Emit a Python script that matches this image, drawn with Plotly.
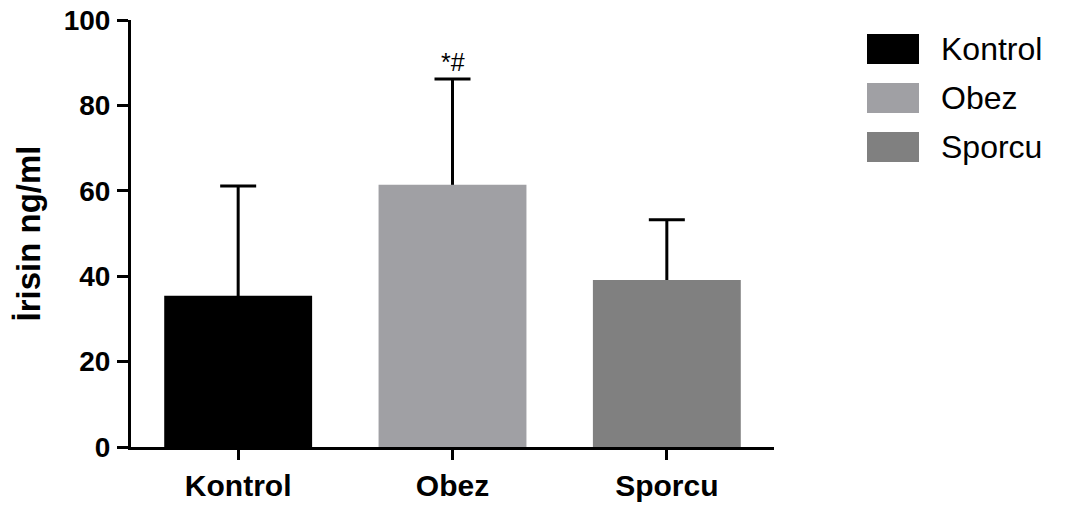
import plotly.graph_objects as go

categories = ["Kontrol", "Obez", "Sporcu"]
means = [35.4, 61.4, 39.1]
sds = [25.7, 24.8, 14.1]
colors = ["#000000", "#a0a0a4", "#808080"]
significance = ["", "*#", ""]
y_ticks = [0, 20, 40, 60, 80, 100]

# the page body adds an 8px offset; compensate so the picture lands at the reference spots
OFF = 8
W, H = 1065 - OFF, 508 - OFF
ML, MR, MT, MB = 131 - OFF, 291, 20 - OFF, 61
PW = W - ML - MR
PH = H - MT - MB

fig = go.Figure()
# error bars first (transparent bars), so the solid bars drawn afterwards hide the lower part
for cat, m, s in zip(categories, means, sds):
    fig.add_trace(go.Bar(
        x=[cat], y=[m], marker=dict(color="rgba(0,0,0,0)", line=dict(width=0)),
        width=0.69, showlegend=False, hoverinfo="skip",
        error_y=dict(type="data", array=[s], arrayminus=[m], symmetric=False,
                     thickness=3, width=18, color="black"),
    ))
for cat, m, c in zip(categories, means, colors):
    fig.add_trace(go.Bar(
        x=[cat], y=[m], name=cat, marker=dict(color=c, line=dict(width=0)),
        width=0.69, showlegend=False,
    ))

for cat, m, s, lab in zip(categories, means, sds, significance):
    if lab:
        fig.add_annotation(x=cat, y=m + s, text=lab, showarrow=False,
                           yanchor="bottom", yshift=1,
                           font=dict(family="Liberation Sans", size=25, color="black"))

# custom legend with large swatches (positions in reference pixels)
def px_x(p):
    return (p - OFF - ML) / PW

def px_y(p):
    return 1 - (p - OFF - MT) / PH

for i, (cat, c) in enumerate(zip(categories, colors)):
    cy = 49 + i * 49
    fig.add_shape(type="rect", xref="paper", yref="paper",
                  x0=px_x(867), x1=px_x(919), y0=px_y(cy - 15), y1=px_y(cy + 15),
                  fillcolor=c, line=dict(width=0))
    fig.add_annotation(xref="paper", yref="paper", x=px_x(939), y=px_y(cy),
                       text=cat, showarrow=False, xanchor="left", yanchor="middle",
                       font=dict(family="Liberation Sans", size=32, color="black"))

fig.update_layout(
    width=W, height=H,
    margin=dict(l=ML, r=MR, t=MT, b=MB, autoexpand=False),
    plot_bgcolor="white", paper_bgcolor="white",
    showlegend=False, barmode="overlay",
    xaxis=dict(
        range=[-0.5, 2.5], showline=True, linecolor="black", linewidth=3,
        ticks="outside", ticklen=10, tickwidth=3, tickcolor="black",
        tickfont=dict(family="Liberation Sans", size=30, color="black", weight="bold"),
        showgrid=False, zeroline=False, automargin=False,
    ),
    yaxis=dict(
        range=[0, 100], tickvals=y_ticks, showline=True, linecolor="black", linewidth=3,
        ticks="outside", ticklen=11, tickwidth=3, tickcolor="black",
        tickfont=dict(family="Liberation Sans", size=28, color="black", weight="bold"),
        ticklabelstandoff=1, ticklabeloverflow="allow",
        showgrid=False, zeroline=False, automargin=False,
        title=dict(text="İrisin ng/ml", standoff=14,
                   font=dict(family="Liberation Sans", size=33, color="black", weight="bold")),
    ),
)

fig.write_html("out.html")
